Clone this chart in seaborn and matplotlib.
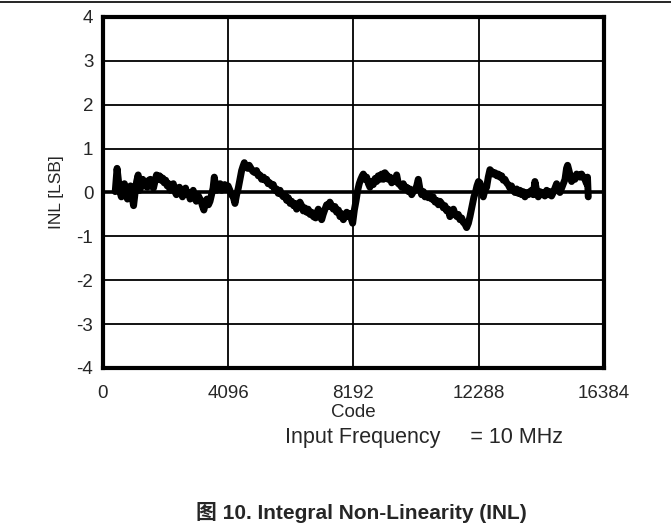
import matplotlib
matplotlib.use("Agg")
import matplotlib.pyplot as plt
import seaborn as sns
import pandas as pd
from matplotlib.lines import Line2D

code = [400, 460, 500, 540, 600, 650, 700, 750, 800, 850, 900, 950, 1000, 1050, 1100,
        1150, 1200, 1250, 1300, 1350, 1400, 1450, 1500, 1550, 1600, 1650, 1700, 1750,
        1800, 1850, 1900, 1950, 2000, 2050, 2100, 2150, 2200, 2250, 2300, 2350, 2400,
        2450, 2500, 2550, 2600, 2650, 2700, 2750, 2800, 2850, 2900, 2950, 3000, 3050,
        3100, 3150, 3200, 3250, 3300, 3350, 3400, 3450, 3500, 3550, 3600, 3640, 3680,
        3720, 3780, 3830, 3880, 3930, 3980, 4040, 4090, 4150, 4200, 4260, 4316, 4370,
        4425, 4480, 4534, 4580, 4622, 4670, 4731, 4780, 4840, 4900, 4970, 5020, 5079,
        5130, 5188, 5250, 5300, 5352, 5400, 5460, 5515, 5570, 5620, 5679, 5730, 5790,
        5843, 5900, 5950, 6006, 6060, 6120, 6170, 6230, 6280, 6333, 6390, 6440, 6497,
        6550, 6600, 6660, 6710, 6770, 6824, 6880, 6955, 7000, 7041, 7100, 7151, 7200,
        7260, 7314, 7370, 7420, 7478, 7530, 7586, 7640, 7700, 7750, 7800, 7860, 7913,
        7970, 8030, 8077, 8120, 8165, 8220, 8273, 8330, 8380, 8430, 8480, 8513, 8570,
        8622, 8680, 8730, 8786, 8840, 8900, 8950, 9000, 9060, 9113, 9170, 9220, 9277,
        9330, 9390, 9441, 9500, 9550, 9604, 9660, 9710, 9768, 9820, 9880, 9932, 9990,
        10040, 10095, 10150, 10202, 10260, 10311, 10360, 10420, 10480, 10530, 10584,
        10640, 10700, 10748, 10800, 10860, 10911, 10970, 11020, 11075, 11130, 11180,
        11239, 11290, 11347, 11400, 11460, 11510, 11570, 11620, 11674, 11730, 11782,
        11840, 11892, 11950, 12001, 12060, 12132, 12180, 12230, 12280, 12328, 12380,
        12436, 12490, 12546, 12600, 12655, 12710, 12760, 12818, 12880, 12930, 12982,
        13040, 13090, 13145, 13200, 13250, 13309, 13360, 13410, 13472, 13530, 13580,
        13636, 13690, 13740, 13800, 13850, 13910, 13963, 14020, 14070, 14126, 14180,
        14235, 14290, 14340, 14399, 14450, 14510, 14562, 14620, 14670, 14726, 14780,
        14835, 14890, 14944, 15000, 15053, 15110, 15160, 15195, 15240, 15290, 15326,
        15380, 15434, 15490, 15543, 15600, 15650, 15707, 15760, 15816, 15845, 15870]
inl = [0.02, 0.55, 0.30, 0.05, -0.10, 0.05, 0.20, -0.05, -0.15, 0.10, 0.15, -0.10, -0.30, 0.00, 0.25,
       0.40, 0.05, 0.20, 0.30, 0.15, 0.25, 0.12, 0.28, 0.30, 0.15, 0.10, 0.25, 0.40,
       0.30, 0.38, 0.28, 0.33, 0.22, 0.28, 0.15, 0.20, 0.05, 0.18, 0.20, 0.02, -0.05,
       0.10, 0.12, 0.00, -0.10, 0.05, 0.10, -0.05, 0.00, -0.15, -0.05, 0.05, -0.10, -0.20,
       -0.05, -0.12, -0.18, -0.30, -0.40, -0.22, -0.15, -0.28, -0.20, -0.05, 0.10, 0.35, 0.15,
       0.05, 0.18, 0.20, 0.05, 0.12, 0.18, 0.10, 0.15, 0.05, -0.05, -0.10, -0.25, -0.05,
       0.10, 0.30, 0.50, 0.60, 0.68, 0.58, 0.55, 0.62, 0.55, 0.48, 0.45, 0.50, 0.38,
       0.40, 0.30, 0.35, 0.28, 0.30, 0.20, 0.22, 0.15, 0.18, 0.05, 0.08, -0.02, 0.05,
       -0.05, -0.10, -0.05, -0.18, -0.12, -0.25, -0.20, -0.30, -0.25, -0.38, -0.30, -0.22, -0.30,
       -0.42, -0.35, -0.45, -0.38, -0.50, -0.45, -0.55, -0.58, -0.45, -0.38, -0.50, -0.62, -0.50,
       -0.38, -0.28, -0.32, -0.22, -0.30, -0.38, -0.32, -0.45, -0.40, -0.55, -0.48, -0.62, -0.55,
       -0.45, -0.55, -0.48, -0.60, -0.70, -0.40, -0.20, 0.05, 0.20, 0.30, 0.38, 0.42, 0.30,
       0.35, 0.20, 0.12, 0.25, 0.18, 0.32, 0.25, 0.38, 0.30, 0.42, 0.30, 0.45, 0.40,
       0.30, 0.35, 0.22, 0.30, 0.25, 0.40, 0.20, 0.18, 0.12, 0.20, 0.08, 0.12, 0.02,
       0.08, -0.05, 0.02, 0.05, 0.15, 0.30, 0.10, -0.05, 0.02, -0.10, -0.05,
       -0.12, -0.08, -0.15, -0.10, -0.22, -0.18, -0.28, -0.20, -0.25, -0.35, -0.30,
       -0.42, -0.38, -0.55, -0.45, -0.38, -0.48, -0.55, -0.50, -0.62, -0.58, -0.68,
       -0.72, -0.80, -0.70, -0.55, -0.35, -0.10, 0.00, 0.15, 0.25, 0.22, 0.05,
       -0.10, 0.05, 0.12, 0.35, 0.52, 0.48, 0.42, 0.45, 0.38, 0.42, 0.35,
       0.38, 0.28, 0.30, 0.22, 0.18, 0.10, 0.15, 0.05, 0.00, 0.08, -0.02,
       0.05, -0.05, 0.02, -0.10, 0.00, -0.05, 0.02, 0.05, -0.05, 0.25, 0.05,
       -0.10, 0.02, -0.05, 0.00, -0.08, 0.05, -0.05, 0.02, -0.08, 0.00, 0.10,
       0.20, 0.05, 0.00, 0.10, 0.20, 0.30, 0.55, 0.62, 0.50, 0.35, 0.25,
       0.35, 0.30, 0.42, 0.40, 0.35, 0.42, 0.35, 0.30, 0.20, 0.35, -0.10]
assert len(code) == len(inl)

xticks = [0, 4096, 8192, 12288, 16384]
yticks = [-4, -3, -2, -1, 0, 1, 2, 3, 4]

sns.set_style("white")
plt.rcParams['font.family'] = ['Liberation Sans', 'Noto Sans CJK SC', 'DejaVu Sans']

fig = plt.figure(figsize=(6.71, 5.31), dpi=100)
ax = fig.add_axes([0.1535, 0.307, 0.7466, 0.661])

df = pd.DataFrame({"Code": code, "INL": inl})

for xv in xticks[1:-1]:
    ax.axvline(xv, color="black", lw=1.3, zorder=1)
for yv in yticks[1:-1]:
    ax.axhline(yv, color="black", lw=2.6 if yv == 0 else 1.3, zorder=1)

sns.lineplot(data=df, x="Code", y="INL", ax=ax, color="black", lw=5,
             sort=False, estimator=None, zorder=3)

ax.set_xlim(0, 16384)
ax.set_ylim(-4, 4)
ax.set_xticks(xticks)
ax.set_yticks(yticks)
ax.set_xticklabels([str(t) for t in xticks], fontsize=13.5)
ax.set_yticklabels([str(t) for t in yticks], fontsize=13.5)
ax.tick_params(axis="x", length=0, pad=12)
ax.tick_params(axis="y", length=0, pad=7)
ax.set_xlabel("Code", fontsize=13.5, labelpad=2)
ax.set_ylabel("INL [LSB]", fontsize=12.5)
ax.yaxis.set_label_coords(-0.078, 0.5)
for s in ax.spines.values():
    s.set_visible(True)
    s.set_color("black")
    s.set_linewidth(3)

fig.text(0.632, 0.177, "Input Frequency     = 10 MHz", fontsize=15.5, ha="center", va="center")
fig.text(0.539, 0.034, "图 10. Integral Non-Linearity (INL)", fontsize=15,
         fontweight="bold", ha="center", va="center")
fig.add_artist(Line2D([0, 1], [0.996, 0.996], color="black", lw=1.2,
                      transform=fig.transFigure))

fig.savefig("out.png", dpi=100)
